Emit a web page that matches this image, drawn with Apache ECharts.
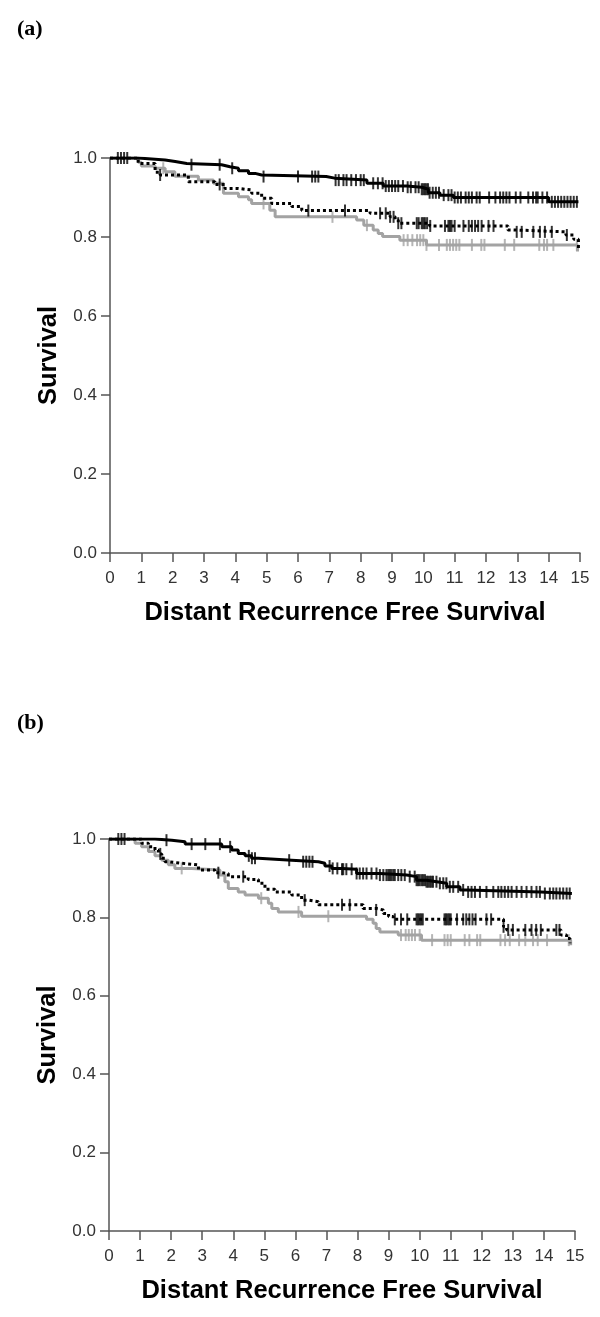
<!DOCTYPE html>
<html><head><meta charset="utf-8">
<script src="https://cdn.jsdelivr.net/npm/echarts@6/dist/echarts.min.js"></script>
<style>html,body{margin:0;padding:0;background:#fff}#c{width:600px;height:1317px}</style>
</head><body><div id="c"></div>
<script>
// ---------- Data ----------
const xTickLabels = ['0','1','2','3','4','5','6','7','8','9','10','11','12','13','14','15'];
const yTickLabels = ['0.0','0.2','0.4','0.6','0.8','1.0'];
const xAxisTitle = 'Distant Recurrence Free Survival';
const yAxisTitle = 'Survival';
const panelLabels = ['(a)', '(b)'];

// Panel (a)
const aSolidT = [0,0.9,1.76,2.08,2.45,3.56,3.83,4.1,4.42,4.63,4.84,6.9,7.17,8.2,8.72,9.47,9.95,10.16,10.53,10.96,14.0,14.95];
const aSolidS = [1,0.995,0.991,0.986,0.983,0.978,0.974,0.968,0.961,0.957,0.953,0.949,0.944,0.936,0.929,0.926,0.921,0.912,0.906,0.900,0.889,0.889];
const aDotT = [0,0.9,1.44,1.6,2.5,3.35,3.67,4.1,4.52,4.84,5.16,5.8,6.12,8.3,8.94,9.1,9.2,10.2,12.7,12.85,14.55,14.8,14.95];
const aDotS = [1,0.986,0.964,0.957,0.94,0.933,0.923,0.919,0.911,0.898,0.885,0.877,0.867,0.86,0.851,0.843,0.835,0.828,0.818,0.813,0.805,0.794,0.767];
const aGrayT = [0,0.9,1.0,1.44,1.76,2.07,2.82,3.3,3.62,4.1,4.42,4.52,5.1,5.27,7.87,8.1,8.4,8.56,8.7,9.25,10.1,14.92];
const aGrayS = [1,0.989,0.98,0.974,0.965,0.954,0.944,0.936,0.911,0.902,0.894,0.885,0.868,0.851,0.843,0.830,0.818,0.809,0.801,0.792,0.780,0.763];
const aSolidCens = [0.25,0.35,0.45,0.55,2.6,3.5,3.9,4.9,6.0,6.45,6.55,6.65,7.2,7.3,7.45,7.55,7.7,7.85,8.0,8.1,8.4,8.55,8.7,8.8,8.9,9.0,9.1,9.2,9.35,9.5,9.6,9.75,9.85,9.95,10.0,10.05,10.1,10.15,10.2,10.3,10.4,10.5,10.65,10.8,10.9,11.0,11.1,11.2,11.35,11.45,11.55,11.7,11.8,12.1,12.3,12.45,12.55,12.65,12.75,12.95,13.1,13.35,13.5,13.6,13.65,13.8,13.95,14.1,14.2,14.3,14.4,14.5,14.6,14.7,14.8,14.9];
const aDotCens = [1.6,3.5,6.33,7.5,8.62,8.8,8.94,9.05,9.2,9.3,9.79,9.85,9.95,10.0,10.05,10.12,10.22,10.69,10.8,10.85,10.9,11.0,11.28,11.45,11.55,11.65,11.75,11.86,12.08,12.24,12.98,13.14,13.51,13.72,13.88,14.1,14.58];
const aGrayCens = [1.7,4.9,7.1,8.2,9.37,9.5,9.65,9.8,9.9,10.0,10.1,10.5,10.75,10.85,10.95,11.05,11.15,11.55,11.85,11.95,12.6,12.9,13.7,13.85,13.95,14.15,14.9];

// Panel (b)
const bSolidT = [0,1.48,2.02,2.45,3.63,3.95,4.16,4.38,4.59,4.81,5.88,6.74,6.95,7.17,7.5,7.97,8.72,9.58,9.9,10.22,10.55,10.87,11.3,11.51,13.9,14.9];
const bSolidS = [1,0.997,0.993,0.987,0.980,0.972,0.963,0.957,0.951,0.946,0.942,0.938,0.931,0.925,0.923,0.912,0.908,0.904,0.895,0.891,0.887,0.878,0.870,0.865,0.861,0.861];
const bDotT = [0,1.05,1.27,1.48,1.59,1.70,1.80,1.91,2.34,2.88,3.41,3.63,3.84,4.48,4.81,5.02,5.34,5.88,6.2,6.42,6.74,8.18,8.6,8.83,9.0,9.15,12.7,12.8,14.55,14.73,14.84];
const bDotS = [1,0.989,0.980,0.972,0.962,0.951,0.942,0.938,0.934,0.921,0.914,0.912,0.904,0.897,0.887,0.872,0.865,0.857,0.844,0.840,0.832,0.823,0.819,0.810,0.802,0.795,0.776,0.768,0.755,0.746,0.734];
const bGrayT = [0,0.84,1.05,1.27,1.48,1.70,1.91,2.12,2.66,3.57,3.73,3.84,4.16,4.38,4.81,5.13,5.24,5.45,6.2,8.29,8.5,8.6,8.72,9.31,10.06,14.86];
const bGrayS = [1,0.989,0.980,0.968,0.957,0.946,0.934,0.925,0.921,0.908,0.891,0.874,0.865,0.857,0.849,0.836,0.823,0.814,0.803,0.795,0.785,0.772,0.763,0.755,0.742,0.729];
const bSolidCens = [0.3,0.4,0.5,1.85,2.66,3.1,3.57,3.9,4.5,4.6,4.7,5.8,6.25,6.35,6.45,6.55,7.1,7.2,7.35,7.5,7.54,7.64,7.81,7.97,8.07,8.18,8.29,8.45,8.61,8.72,8.83,8.93,8.99,9.04,9.09,9.15,9.2,9.31,9.41,9.52,9.68,9.84,9.9,9.95,10.0,10.06,10.11,10.17,10.22,10.27,10.33,10.38,10.43,10.54,10.65,10.76,10.86,10.97,11.08,11.24,11.4,11.56,11.67,11.78,11.94,12.15,12.37,12.53,12.63,12.74,12.85,12.96,13.12,13.28,13.44,13.6,13.76,13.87,14.03,14.19,14.3,14.4,14.51,14.62,14.73,14.83];
const bDotCens = [1.65,3.52,4.32,6.3,7.5,7.75,8.6,9.2,9.4,9.6,9.9,9.95,10.0,10.05,10.1,10.8,10.85,10.9,10.95,11.0,11.2,11.4,11.5,11.6,11.7,11.8,12.15,12.3,12.7,12.85,13.0,13.4,13.6,13.75,13.9,14.4,14.5];
const bGrayCens = [2.34,4.9,6.1,7.06,9.4,9.55,9.65,9.75,9.85,10.0,10.4,10.8,10.9,11.0,11.45,11.6,11.85,11.95,12.6,12.75,12.9,13.2,13.4,13.65,13.8,14.1,14.8];

// ---------- Helpers ----------
function pairs(ts, ss){ return ts.map((t,i)=>[t, ss[i]]); }
function survAt(ts, ss, t){ let s = ss[0]; for (let i=0;i<ts.length;i++){ if (ts[i] <= t) s = ss[i]; else break; } return s; }
function cens(cs, ts, ss){ return cs.map(t => [t, survAt(ts, ss, t)]); }

const SANS = '"Liberation Sans", Arial, sans-serif';
const SERIF = '"Liberation Serif", "Times New Roman", serif';
const AXIS_COLOR = '#555';
const GRAY = '#a3a3a3';

const grids = [
  {left:110, top:158, width:470, height:395},
  {left:109, top:839, width:466, height:392}
];

function xAxisFor(i){
  return {
    gridIndex:i, type:'value', min:0, max:15, interval:1,
    axisLine:{show:true, onZero:false, lineStyle:{color:AXIS_COLOR, width:1.5}},
    axisTick:{show:true, inside:false, length:9, lineStyle:{color:AXIS_COLOR, width:1.5}},
    axisLabel:{color:'#333', fontFamily:SANS, fontSize:17, margin:17,
      formatter:(v)=>xTickLabels[Math.round(v)] },
    splitLine:{show:false},
    name:xAxisTitle, nameLocation:'middle', nameGap:47,
    nameTextStyle:{color:'#000', fontFamily:SANS, fontSize:25.5, fontWeight:'bold'}
  };
}
function yAxisFor(i){
  return {
    gridIndex:i, type:'value', min:0, max:1, interval:0.2,
    axisLine:{show:true, onZero:false, lineStyle:{color:AXIS_COLOR, width:1.5}},
    axisTick:{show:true, inside:false, length:9, lineStyle:{color:AXIS_COLOR, width:1.5}},
    axisLabel:{color:'#333', fontFamily:SANS, fontSize:17, margin:13,
      formatter:(v)=>yTickLabels[Math.round(v*5)] },
    splitLine:{show:false},
    name:yAxisTitle, nameLocation:'middle', nameGap:39,
    nameTextStyle:{color:'#000', fontFamily:SANS, fontSize:25.5, fontWeight:'bold'}
  };
}

function lineSeries(i, data, color, type, z){
  return {type:'line', xAxisIndex:i, yAxisIndex:i, data, step:'end', showSymbol:false, symbol:'none',
    silent:true, z, lineStyle:{color, width:3, type, cap:'butt'}};
}
function censSeries(i, data, color, z){
  return {type:'scatter', xAxisIndex:i, yAxisIndex:i, data, symbol:'rect', symbolSize:[2,12],
    silent:true, z, itemStyle:{color}};
}

const panels = [
  {solid:[aSolidT,aSolidS,aSolidCens], dot:[aDotT,aDotS,aDotCens], gray:[aGrayT,aGrayS,aGrayCens]},
  {solid:[bSolidT,bSolidS,bSolidCens], dot:[bDotT,bDotS,bDotCens], gray:[bGrayT,bGrayS,bGrayCens]}
];
const series = [];
panels.forEach((p,i)=>{
  series.push(lineSeries(i, pairs(p.gray[0],p.gray[1]), GRAY, 'solid', 2));
  series.push(censSeries(i, cens(p.gray[2],p.gray[0],p.gray[1]), GRAY, 2));
  series.push(lineSeries(i, pairs(p.dot[0],p.dot[1]), '#000', [3,3], 3));
  series.push(censSeries(i, cens(p.dot[2],p.dot[0],p.dot[1]), '#000', 3));
  series.push(lineSeries(i, pairs(p.solid[0],p.solid[1]), '#000', 'solid', 4));
  series.push(censSeries(i, cens(p.solid[2],p.solid[0],p.solid[1]), '#000', 4));
});

const chart = echarts.init(document.getElementById('c'), null, {renderer:'canvas'});
chart.setOption({
  animation:false,
  backgroundColor:'#fff',
  grid:grids,
  xAxis:[xAxisFor(0), xAxisFor(1)],
  yAxis:[yAxisFor(0), yAxisFor(1)],
  graphic:[
    {type:'text', left:17, top:18, style:{text:panelLabels[0], font:'bold 22px '+SERIF, fill:'#000'}},
    {type:'text', left:17, top:712, style:{text:panelLabels[1], font:'bold 22px '+SERIF, fill:'#000'}}
  ],
  series
});
</script></body></html>
